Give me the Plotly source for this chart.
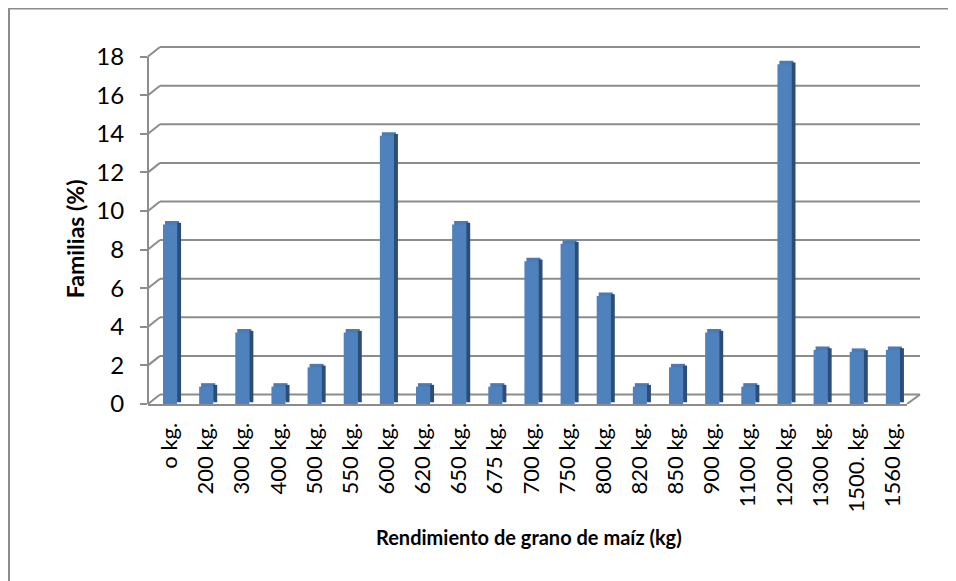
import plotly.graph_objects as go

categories = ["o kg.", "200 kg.", "300 kg.", "400 kg.", "500 kg.", "550 kg.", "600 kg.",
              "620 kg.", "650 kg.", "675 kg.", "700 kg.", "750 kg.", "800 kg.", "820 kg.",
              "850 kg.", "900 kg.", "1100 kg.", "1200 kg.", "1300 kg.", "1500. kg.", "1560 kg."]
values = [9.3, 0.9, 3.7, 0.9, 1.9, 3.7, 13.9, 0.9, 9.3, 0.9, 7.4, 8.3, 5.6, 0.9, 1.9, 3.7,
          0.9, 17.6, 2.8, 2.7, 2.8]
y_ticks = list(range(0, 19, 2))

FRONT = "#4F81BD"
TOP = "#4A7BB5"
SIDE = "#2E4D74"
GRID = "#8C8C8C"
FONT = "Lato, 'Open Sans', sans-serif"

W = 0.39      # bar width (category units)
DX = 0.11     # depth shift right (category units)
DY = 0.18     # depth shift up (value units)

fig = go.Figure()
# top face
fig.add_trace(go.Bar(x=categories, y=values, width=W, offset=-W / 2 + DX / 2, base=DY,
                     marker=dict(color=TOP, line=dict(width=0)), hoverinfo="skip"))
# side face
fig.add_trace(go.Bar(x=categories, y=values, width=DX, offset=W / 2, base=DY / 2,
                     marker=dict(color=SIDE, line=dict(width=0)), hoverinfo="skip"))
# front face
fig.add_trace(go.Bar(x=categories, y=values, width=W, offset=-W / 2,
                     marker=dict(color=FRONT, line=dict(width=0)),
                     hovertemplate="%{x}: %{y}%<extra></extra>"))

shapes = []
plot_w = 759.0
for v in y_ticks:
    # diagonal from axis to back wall
    shapes.append(dict(type="line", xref="paper", yref="y", xsizemode="pixel", xanchor=0,
                       x0=0, x1=12, ysizemode="pixel", yanchor=v, y0=0, y1=9.5,
                       line=dict(color=GRID, width=2), layer="below"))
    # back-wall gridline
    shapes.append(dict(type="line", xref="paper", yref="y", x0=12 / plot_w, x1=772 / plot_w,
                       ysizemode="pixel", yanchor=v, y0=9.5, y1=9.5,
                       line=dict(color=GRID, width=2), layer="below"))
# vertical axis line
shapes.append(dict(type="line", xref="paper", yref="y", x0=0, x1=0, y0=0, y1=18,
                   line=dict(color=GRID, width=2), layer="below"))
# right floor edge
shapes.append(dict(type="line", xref="paper", yref="y", xsizemode="pixel", xanchor=1,
                   x0=0, x1=13, ysizemode="pixel", yanchor=0, y0=0, y1=9.5,
                   line=dict(color=GRID, width=2), layer="below"))
# chart border
shapes.append(dict(type="rect", xref="paper", yref="paper", x0=-0.1831, x1=1.2,
                   y0=-0.7, y1=1.1017, line=dict(color=GRID, width=2), layer="below"))

fig.update_layout(
    width=956, height=581,
    margin=dict(l=140, r=57, t=37, b=185),
    paper_bgcolor="white", plot_bgcolor="white",
    barmode="overlay", showlegend=False,
    font=dict(family=FONT, color="black"),
    shapes=shapes,
    xaxis=dict(type="category", categoryorder="array", categoryarray=categories,
               range=[-0.61, 20.39], showgrid=False, zeroline=False,
               showline=True, linecolor=GRID, linewidth=2, ticks="",
               tickangle=-90, tickfont=dict(size=22, family=FONT, color="black"),
               ticklabelstandoff=8),
    yaxis=dict(range=[0, 18.6], tickmode="array", tickvals=y_ticks,
               showgrid=False, zeroline=False, showline=False,
               ticks="outside", ticklen=7, tickwidth=2, tickcolor=GRID,
               tickfont=dict(size=24, family=FONT, color="black"),
               ticklabelstandoff=11),
    annotations=[
        dict(text="<b>Familias (%)</b>", xref="paper", yref="paper", x=-0.0962, y=0.462,
             textangle=-90, showarrow=False, xanchor="center", yanchor="middle",
             font=dict(size=23, family=FONT, color="black")),
        dict(text="<b>Rendimiento de grano de maíz (kg)</b>", xref="paper", yref="paper",
             x=0.502, y=-0.370, showarrow=False, xanchor="center", yanchor="middle",
             font=dict(size=20, family=FONT, color="black")),
    ],
)

fig.write_html("out.html")
